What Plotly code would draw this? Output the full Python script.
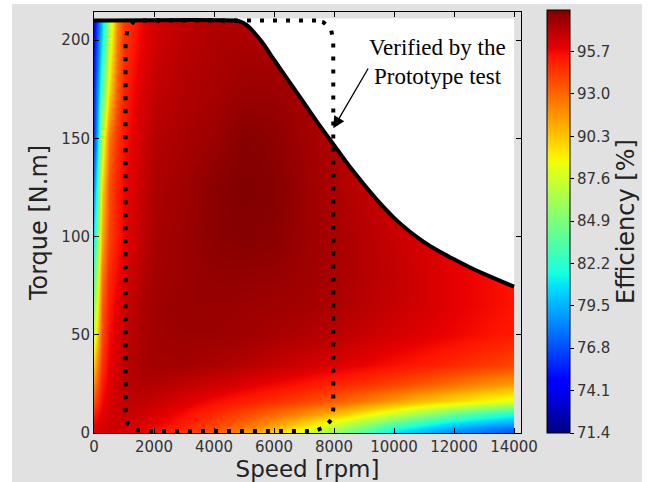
import plotly.graph_objects as go

# ---------------- data ----------------
speed_rpm = [0, 100, 250, 500, 750, 1000, 1500, 2000, 3000, 4000, 5000,
             6000, 7000, 8000, 9000, 10000, 11000, 12000, 13000, 14000]
torque_nm = [0, 2, 5, 10, 16, 25, 35, 50, 65, 80, 100, 125, 150, 175, 200, 210]

eff_T0 = [95.8, 96.0, 96.2, 96.3, 96.3, 96.2, 95.9, 95.3, 94.3, 93.0, 91.5, 89.8, 87.7, 85.5, 83.0, 80.6, 79.2, 78.1, 77.3, 76.6]
eff_T2 = [96.0, 96.2, 96.4, 96.5, 96.5, 96.4, 96.1, 95.6, 94.8, 93.7, 92.2, 90.6, 88.6, 86.5, 84.2, 81.5, 80.1, 79.0, 78.2, 77.5]
eff_T5 = [95.8, 96.0, 96.3, 96.5, 96.6, 96.5, 96.3, 96.0, 95.2, 94.2, 93.0, 91.6, 90.0, 88.0, 86.0, 83.8, 82.0, 80.6, 79.7, 79.0]
eff_T10 = [95.0, 95.5, 96.0, 96.4, 96.6, 96.7, 96.6, 96.3, 95.6, 94.8, 94.0, 93.0, 92.0, 90.8, 89.3, 87.7, 86.0, 84.4, 83.0, 82.0]
eff_T16 = [93.6, 94.5, 95.7, 96.3, 96.6, 96.8, 96.9, 96.7, 96.2, 95.6, 95.1, 94.6, 94.0, 93.3, 92.4, 91.4, 90.4, 89.6, 88.8, 88.0]
eff_T25 = [92.0, 93.3, 95.2, 96.1, 96.6, 96.9, 97.2, 97.2, 96.9, 96.6, 96.2, 95.8, 95.4, 95.0, 94.6, 94.1, 93.5, 92.8, 92.1, 91.5]
eff_T35 = [90.2, 92.0, 94.6, 95.9, 96.5, 96.9, 97.4, 97.5, 97.5, 97.3, 97.1, 96.8, 96.5, 96.2, 95.9, 95.5, 95.2, 94.8, 94.4, 94.0]
eff_T50 = [87.5, 89.8, 93.8, 95.6, 96.3, 96.7, 97.3, 97.6, 97.7, 97.7, 97.6, 97.4, 97.2, 97.0, 96.7, 96.4, 96.1, 95.8, 95.5, 95.2]
eff_T65 = [85.5, 88.5, 93.3, 95.3, 96.0, 96.5, 97.2, 97.6, 97.8, 97.8, 97.7, 97.6, 97.5, 97.3, 97.0, 96.7, 96.4, 96.0, 95.7, 95.4]
eff_T80 = [83.5, 87.0, 92.5, 94.8, 95.7, 96.2, 97.0, 97.5, 97.7, 97.9, 97.9, 97.8, 97.6, 97.4, 97.1, 96.8, 96.4, 96.0, 95.7, 95.4]
eff_T100 = [81.0, 85.0, 91.0, 94.1, 95.2, 95.9, 96.7, 97.4, 97.7, 98.1, 98.2, 98.1, 97.7, 97.4, 97.1, 96.7, 96.3, 96.0, 95.6, 95.3]
eff_T125 = [78.5, 82.5, 89.8, 93.7, 95.1, 95.8, 96.6, 97.3, 97.6, 98.1, 98.3, 98.2, 97.7, 97.3, 96.9, 96.5, 96.2, 95.8, 95.5, 95.2]
eff_T150 = [76.5, 79.5, 87.5, 92.6, 94.5, 95.4, 96.4, 97.1, 97.4, 97.7, 98.2, 98.0, 97.6, 97.2, 96.8, 96.4, 96.0, 95.7, 95.3, 95.0]
eff_T175 = [75.8, 78.5, 83.5, 89.5, 93.3, 95.0, 96.1, 96.8, 97.2, 97.4, 97.7, 97.7, 97.4, 97.0, 96.6, 96.2, 95.9, 95.5, 95.2, 95.0]
eff_T200 = [75.0, 77.0, 81.0, 87.5, 92.4, 94.5, 95.7, 96.5, 97.0, 97.3, 97.4, 97.3, 97.1, 96.8, 96.4, 96.0, 95.7, 95.3, 95.0, 94.8]
eff_T210 = [74.5, 76.5, 80.3, 86.8, 92.0, 94.3, 95.6, 96.4, 96.9, 97.2, 97.3, 97.2, 97.0, 96.7, 96.3, 95.9, 95.6, 95.2, 94.9, 94.7]

efficiency_pct = [eff_T0, eff_T2, eff_T5, eff_T10, eff_T16, eff_T25, eff_T35,
                  eff_T50, eff_T65, eff_T80, eff_T100, eff_T125, eff_T150,
                  eff_T175, eff_T200, eff_T210]

# maximum torque envelope
env_speed = [0, 4700, 4900, 5100, 5300, 5600, 6000, 6500, 7000, 7500, 8000,
             8500, 9000, 9500, 10000, 10500, 11000, 11500, 12000, 12500,
             13000, 13500, 14000]
env_torque = [210, 210, 209.3, 207.5, 204.5, 199, 190, 179, 168, 157, 146.5,
              136, 126.5, 117.5, 109.5, 102.8, 97.2, 92.5, 88.4, 84.5,
              81, 77.7, 74.5]

# prototype test region (dotted boundary)
test_speed = [7400, 1350, 1120, 1050, 1050, 1120, 1400, 1650, 7350, 7700,
              7920, 7975, 7975, 7900, 7650, 7400]
test_torque = [210, 210, 206, 199, 12, 5, 1.5, 1, 1, 3, 7, 12, 200, 205.5, 209, 210]

x_ticks = [0, 2000, 4000, 6000, 8000, 10000, 12000, 14000]
y_ticks = [0, 50, 100, 150, 200]
cbar_ticks = [71.4, 74.1, 76.8, 79.5, 82.2, 84.9, 87.6, 90.3, 93.0, 95.7]
z_min, z_max = 71.4, 98.35

# ---------------- matplotlib "jet" colorscale ----------------
def _seg(t, pts):
    for (x0, y0), (x1, y1) in zip(pts[:-1], pts[1:]):
        if x0 <= t <= x1:
            return y0 if x1 == x0 else y0 + (y1 - y0) * (t - x0) / (x1 - x0)
    return pts[-1][1]

_r = [(0, 0), (0.35, 0), (0.66, 1), (0.89, 1), (1, 0.5)]
_g = [(0, 0), (0.125, 0), (0.375, 1), (0.64, 1), (0.91, 0), (1, 0)]
_b = [(0, 0.5), (0.11, 1), (0.34, 1), (0.65, 0), (1, 0)]
_stops = sorted(set([0, 0.11, 0.125, 0.34, 0.35, 0.375, 0.5, 0.64, 0.65, 0.66, 0.75, 0.89, 0.91, 1]))
jet = [[t, "rgb(%d,%d,%d)" % (round(255 * _seg(t, _r)), round(255 * _seg(t, _g)), round(255 * _seg(t, _b)))]
       for t in _stops]

# ---------------- figure ----------------
fig = go.Figure()

fig.add_trace(go.Contour(
    x=speed_rpm, y=torque_nm, z=efficiency_pct,
    colorscale=jet, zmin=z_min, zmax=z_max, zauto=False,
    contours=dict(coloring="heatmap", showlines=False, start=71.4, end=98.3, size=0.5),
    line=dict(width=0),
    colorbar=dict(
        x=1.0609, xanchor="left", xpad=0,
        y=0, yanchor="bottom", len=1.0048, lenmode="fraction", ypad=0,
        thickness=23, thicknessmode="pixels",
        outlinewidth=1, outlinecolor="black",
        tickvals=cbar_ticks, ticktext=["%.1f" % v for v in cbar_ticks],
        ticks="outside", ticklen=4, tickcolor="black",
        tickfont=dict(family="DejaVu Sans", size=15, color="#333333"),
        title=dict(text="Efficiency [%]", side="right",
                   font=dict(family="DejaVu Sans", size=24, color="#222222")),
    ),
    hoverinfo="skip",
))

# white mask above the torque envelope
mask_x = env_speed[1:] + [14000, 4700]
mask_y = env_torque[1:] + [211, 211]
fig.add_trace(go.Scatter(x=mask_x, y=mask_y, mode="lines", fill="toself",
                         fillcolor="white", line=dict(width=0, color="white"),
                         hoverinfo="skip", showlegend=False))

# dotted prototype-test region
fig.add_trace(go.Scatter(x=test_speed, y=test_torque, mode="lines",
                         line=dict(color="black", width=4, dash="4px,9px"),
                         hoverinfo="skip", showlegend=False))

# envelope
fig.add_trace(go.Scatter(x=env_speed, y=env_torque, mode="lines",
                         line=dict(color="black", width=4, shape="spline", smoothing=0.6),
                         hoverinfo="skip", showlegend=False))

# annotation
fig.add_annotation(x=7977, y=155.1, ax=9167, ay=186.3, xref="x", yref="y",
                   axref="x", ayref="y", text="", showarrow=True,
                   arrowhead=2, arrowsize=1.8, arrowwidth=1.3, arrowcolor="black")
fig.add_annotation(x=11460, y=196, xref="x", yref="y", showarrow=False,
                   text="Verified by the",
                   font=dict(family="Liberation Serif", size=23, color="black"))
fig.add_annotation(x=11460, y=181.7, xref="x", yref="y", showarrow=False,
                   text="Prototype test",
                   font=dict(family="Liberation Serif", size=23, color="black"))

# light gray page background with thin white margins
fig.add_shape(type="rect", xref="paper", yref="paper", layer="below",
              x0=(12 - 94) / 427, x1=(642 - 94) / 427,
              y0=(433 - 482) / 421, y1=(433 - 4) / 421,
              fillcolor="#e1e1e1", line=dict(width=0))

axis_common = dict(showgrid=False, zeroline=False, showline=True, linecolor="black",
                   linewidth=1, mirror="allticks", ticks="inside", ticklen=5,
                   tickcolor="black", tickwidth=1,
                   tickfont=dict(family="DejaVu Sans", size=15, color="#333333"))

fig.update_layout(
    width=651, height=482,
    margin=dict(l=94, r=130, t=12, b=49, autoexpand=False),
    paper_bgcolor="white", plot_bgcolor="white",
    showlegend=False,
    xaxis=dict(range=[0, 14233], tickvals=x_ticks, ticktext=[str(v) for v in x_ticks],
               title=dict(text="Speed [rpm]", standoff=9,
                          font=dict(family="DejaVu Sans", size=23, color="#222222")),
               **axis_common),
    yaxis=dict(range=[0, 214.3], tickvals=y_ticks, ticktext=[str(v) for v in y_ticks],
               title=dict(text="Torque [N.m]", standoff=6,
                          font=dict(family="DejaVu Sans", size=24, color="#222222")),
               **axis_common),
)

fig.write_html("out.html", config={"displayModeBar": False},
               post_script="document.body.style.margin='0px';document.body.style.padding='0px';")
